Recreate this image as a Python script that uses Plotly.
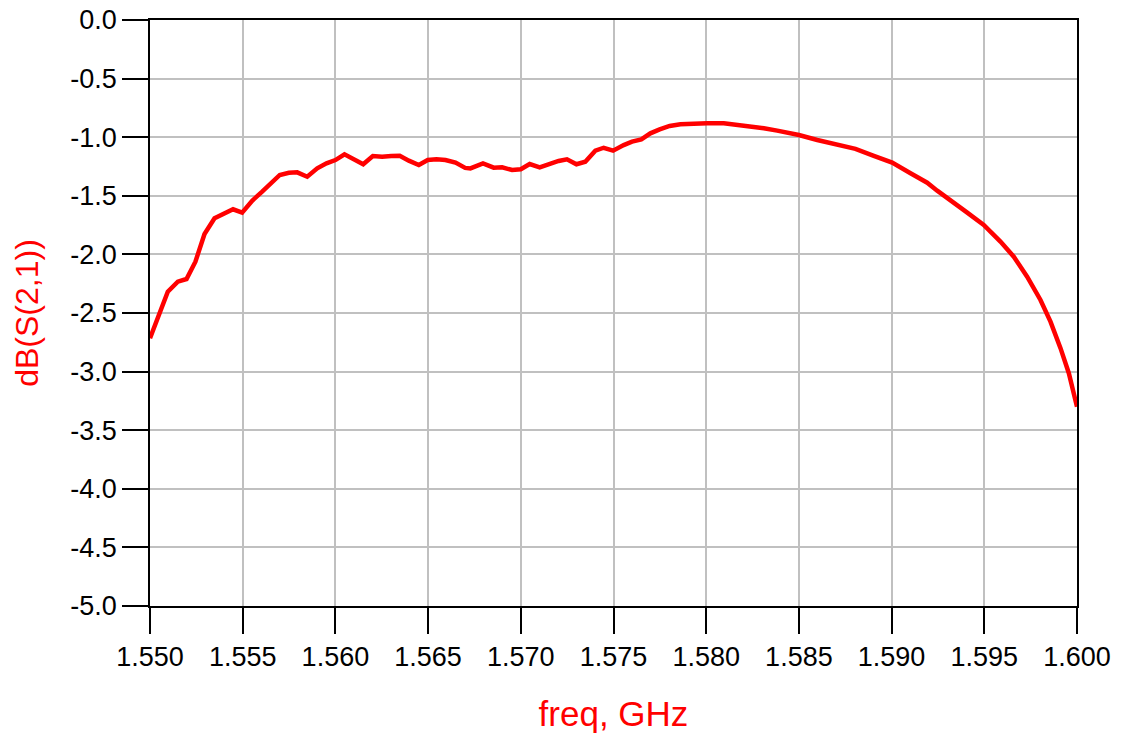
import plotly.graph_objects as go

freq_ghz = [1.5500, 1.55096, 1.55150, 1.55197, 1.55245, 1.55294, 1.55348, 1.55398, 1.55448, 1.55497,
            1.55551, 1.55605, 1.55650, 1.55700, 1.55749, 1.55794, 1.55848, 1.55902, 1.55952, 1.56000,
            1.56049, 1.56099, 1.56150, 1.56202, 1.56252, 1.56301, 1.56347, 1.56396, 1.56450, 1.56498,
            1.56545, 1.56594, 1.56648, 1.56700, 1.56728, 1.56796, 1.56854, 1.56899, 1.56953, 1.57000,
            1.57048, 1.57102, 1.57150, 1.57204, 1.57249, 1.57300, 1.57348, 1.57402, 1.57447, 1.57498,
            1.57555, 1.57600, 1.57650, 1.57699, 1.57749, 1.57803, 1.57861, 1.57933, 1.58005, 1.58095,
            1.58185, 1.58239, 1.58311, 1.58383, 1.58455, 1.58500, 1.58599, 1.58707, 1.58805, 1.58904,
            1.59003, 1.59102, 1.59192, 1.59246, 1.59318, 1.59408, 1.59497, 1.59587, 1.59659, 1.59731,
            1.59803, 1.59857, 1.59911, 1.59956, 1.60000]

s21_db = [-2.716, -2.318, -2.233, -2.210, -2.062, -1.826, -1.692, -1.650, -1.615, -1.644,
          -1.542, -1.465, -1.400, -1.322, -1.303, -1.300, -1.337, -1.266, -1.223, -1.195,
          -1.146, -1.189, -1.231, -1.160, -1.166, -1.160, -1.158, -1.200, -1.237, -1.195,
          -1.189, -1.195, -1.217, -1.262, -1.266, -1.223, -1.260, -1.257, -1.280, -1.274,
          -1.229, -1.257, -1.231, -1.203, -1.189, -1.231, -1.209, -1.115, -1.090, -1.115,
          -1.067, -1.038, -1.018, -0.967, -0.933, -0.904, -0.890, -0.881, -0.881, -0.881,
          -0.896, -0.904, -0.924, -0.944, -0.961, -0.981, -1.024, -1.061, -1.100, -1.160,
          -1.217, -1.308, -1.388, -1.456, -1.536, -1.644, -1.749, -1.891, -2.020, -2.190,
          -2.389, -2.574, -2.800, -3.014, -3.300]

x_ticks = [1.550, 1.555, 1.560, 1.565, 1.570, 1.575, 1.580, 1.585, 1.590, 1.595, 1.600]
y_ticks = [0.0, -0.5, -1.0, -1.5, -2.0, -2.5, -3.0, -3.5, -4.0, -4.5, -5.0]

fig = go.Figure()
fig.add_trace(go.Scatter(x=freq_ghz, y=s21_db, mode="lines",
                         line=dict(color="#FF0000", width=4.5), showlegend=False))

font_family = "Liberation Sans, Arial, sans-serif"
axis_common = dict(
    showgrid=True, gridcolor="#C0C0C0", gridwidth=1.5,
    showline=True, linecolor="black", linewidth=1.5, mirror=True,
    ticks="outside", ticklen=26, tickwidth=1.5, tickcolor="black",
    tickfont=dict(family=font_family, size=27, color="black"),
    zeroline=False, automargin=False, ticklabeloverflow="allow",
)

fig.update_xaxes(range=[1.550, 1.600], tickvals=x_ticks,
                 ticktext=[f"{v:.3f}" for v in x_ticks],
                 title=dict(text="freq, GHz", font=dict(family=font_family, size=35, color="#FF0000"), standoff=30),
                 **axis_common)
fig.update_yaxes(range=[-5.0, 0.0], tickvals=y_ticks,
                 ticktext=[f"{v:.1f}" for v in y_ticks],
                 title=dict(text="dB(S(2,1))", font=dict(family=font_family, size=32, color="#FF0000"), standoff=22),
                 **axis_common)

fig.update_layout(
    width=1122, height=738,
    margin=dict(l=150, r=45, t=20, b=132),
    paper_bgcolor="white", plot_bgcolor="white",
    font=dict(family=font_family),
)

fig.write_html("out.html",
               config={"displayModeBar": False},
               post_script="document.body.style.margin='0';document.body.style.overflow='hidden';")
